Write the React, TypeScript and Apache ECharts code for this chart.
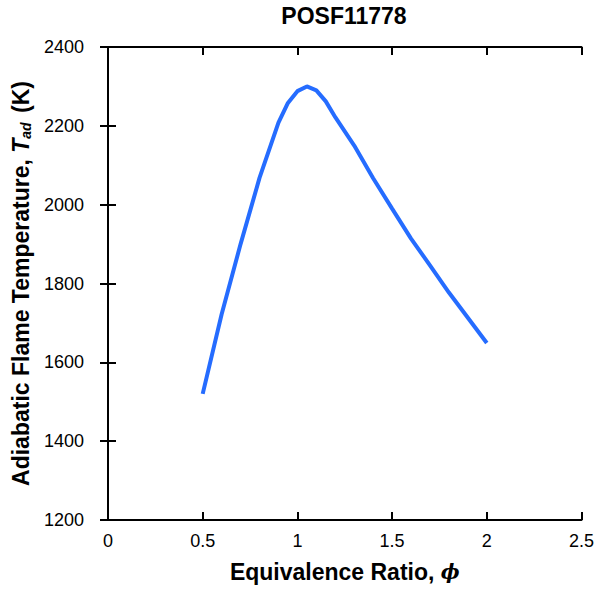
import React, { useEffect, useRef } from "react";
import * as echarts from "echarts";

const phi = [0.5, 0.6, 0.7, 0.8, 0.9, 0.95, 1.0, 1.05, 1.1, 1.15, 1.2, 1.3, 1.4, 1.5, 1.6, 1.7, 1.8, 1.9, 2.0];
const tad = [1520, 1722, 1900, 2068, 2208, 2258, 2288, 2300, 2290, 2262, 2222, 2150, 2067, 1990, 1914, 1846, 1777, 1713, 1649];

const titleText = "POSF11778";
const xName = "Equivalence Ratio, {phi|ϕ}";
const yName = "Adiabatic Flame Temperature, {it|T}{sub|ad} (K)";

const FONT = "'Liberation Sans', Arial, Helvetica, sans-serif";

export default function App() {
  const ref = useRef<HTMLDivElement>(null);
  useEffect(() => {
    if (!ref.current) return;
    const chart = echarts.init(ref.current, null, { renderer: "svg" });
    const axisLine = { show: true, lineStyle: { color: "#000", width: 2 } };
    const axisTick = { show: true, inside: true, length: 8, lineStyle: { color: "#000", width: 2 } };
    chart.setOption({
      animation: false,
      textStyle: { fontFamily: FONT },
      grid: { left: 108, right: 15, top: 47, bottom: 76, containLabel: false },
      graphic: [
        {
          type: "text",
          x: 344,
          y: 16,
          style: {
            text: titleText,
            font: `bold 23px ${FONT}`,
            fill: "#000",
            align: "center",
            verticalAlign: "middle",
          },
        },
      ],
      xAxis: [
        {
          type: "value",
          min: 0,
          max: 2.5,
          interval: 0.5,
          position: "bottom",
          axisLine,
          axisTick,
          splitLine: { show: false },
          axisLabel: { color: "#000", fontSize: 18, margin: 12, fontFamily: FONT, formatter: (v: number) => String(v) },
          name: xName,
          nameLocation: "middle",
          nameGap: 40,
          nameTextStyle: {
            color: "#000",
            fontSize: 23,
            fontWeight: "bold",
            fontFamily: FONT,
            rich: {
              phi: { fontSize: 20, fontWeight: "bold", fontStyle: "italic", fontFamily: "'DejaVu Serif', serif", color: "#000" },
            },
          },
        },
        {
          type: "value",
          min: 0,
          max: 2.5,
          interval: 0.5,
          position: "top",
          axisLine,
          axisTick,
          axisLabel: { show: false },
          splitLine: { show: false },
        },
      ],
      yAxis: [
        {
          type: "value",
          min: 1200,
          max: 2400,
          interval: 200,
          position: "left",
          axisLine,
          axisTick,
          splitLine: { show: false },
          axisLabel: { color: "#000", fontSize: 18, margin: 24, fontFamily: FONT, formatter: (v: number) => String(v) },
          name: yName,
          nameLocation: "middle",
          nameRotate: 90,
          nameGap: 68,
          nameTextStyle: {
            color: "#000",
            fontSize: 23,
            fontWeight: "bold",
            fontFamily: FONT,
            lineHeight: 25,
            rich: {
              it: { fontSize: 23, fontWeight: "bold", fontStyle: "italic", fontFamily: FONT, color: "#000", lineHeight: 25 },
              sub: {
                fontSize: 14,
                fontWeight: "bold",
                fontStyle: "italic",
                fontFamily: FONT,
                color: "#000",
                verticalAlign: "bottom",
                lineHeight: 14,
                padding: [10, 3, 0, 0],
              },
            },
          },
        },
        {
          type: "value",
          min: 1200,
          max: 2400,
          interval: 200,
          position: "right",
          axisLine,
          axisTick,
          axisLabel: { show: false },
          splitLine: { show: false },
        },
      ],
      series: [
        {
          type: "line",
          data: phi.map((p, i) => [p, tad[i]]),
          showSymbol: false,
          symbol: "none",
          lineStyle: { color: "#256cff", width: 4 },
          smooth: false,
        },
      ],
    });
    return () => chart.dispose();
  }, []);
  return <div ref={ref} style={{ width: 597, height: 596, position: "absolute", left: 0, top: 0 }} />;
}
